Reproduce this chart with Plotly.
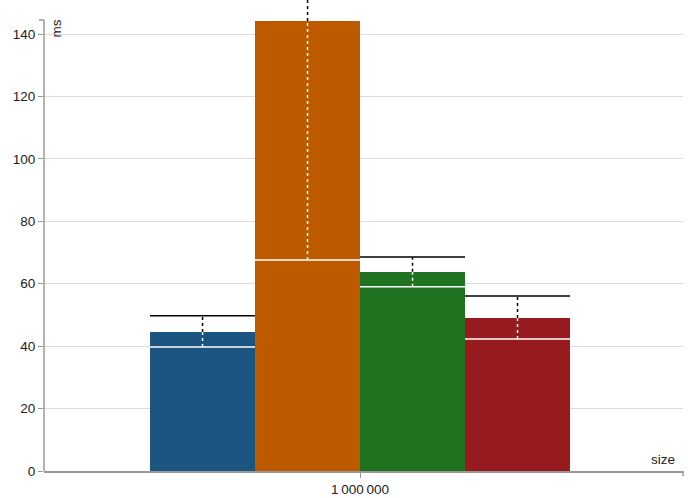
import plotly.graph_objects as go

categories = ["1\u2009000\u2009000"]
series_names = ["A", "B", "C", "D"]
colors = ["#1c5580", "#bd5a00", "#1f7220", "#961b1f"]
bar_values = [44.5, 144.2, 63.8, 49.0]
median_values = [39.7, 67.6, 59.0, 42.3]
whisker_top = [49.7, 160.0, 68.6, 56.1]

y_ticks = [0, 20, 40, 60, 80, 100, 120, 140]
y_axis_top = 144.5      # end of the drawn y axis
y_view_top = 150.9      # plot area extends to top of the page

bar_w = 1.0
n = len(series_names)
fig = go.Figure()

for i, name in enumerate(series_names):
    xc = 0 + (i - (n - 1) / 2) * bar_w
    x0, x1 = xc - bar_w / 2, xc + bar_w / 2
    fig.add_trace(go.Bar(x=[xc], y=[bar_values[i]], width=bar_w,
                         marker=dict(color=colors[i], line=dict(width=0)),
                         name=name, showlegend=False))
    fig.add_trace(go.Scatter(x=[x0, x1], y=[median_values[i]] * 2, mode="lines",
                             line=dict(color="white", width=1.5), showlegend=False, hoverinfo="skip"))
    fig.add_trace(go.Scatter(x=[xc, xc], y=[median_values[i], min(bar_values[i], whisker_top[i])], mode="lines",
                             line=dict(color="white", width=1.5, dash="3px,3px"), showlegend=False, hoverinfo="skip"))
    if whisker_top[i] > bar_values[i]:
        fig.add_trace(go.Scatter(x=[xc, xc], y=[bar_values[i], whisker_top[i]], mode="lines",
                                 line=dict(color="black", width=1.5, dash="3px,3px"), showlegend=False, hoverinfo="skip"))
    fig.add_trace(go.Scatter(x=[x0, x1], y=[whisker_top[i]] * 2, mode="lines",
                             line=dict(color="black", width=1.5), showlegend=False, hoverinfo="skip"))

font = dict(family="Liberation Sans, Arial, sans-serif", size=13.5, color="#222")
axis_col = "#999"

fig.update_layout(
    width=688, height=498,
    margin=dict(l=44, r=5, t=0, b=27, autoexpand=False),
    plot_bgcolor="white", paper_bgcolor="white",
    font=font,
    bargap=0,
    xaxis=dict(range=[-3.01, 3.076], tickvals=[0], ticktext=categories, showgrid=False,
               showline=True, linecolor=axis_col, linewidth=1.5, ticks="outside", ticklen=5, tickcolor=axis_col,
               zeroline=False, fixedrange=True, automargin=False),
    yaxis=dict(range=[0, y_view_top], tickvals=y_ticks, showgrid=True, gridcolor="#dcdcdc", gridwidth=1,
               showline=False, ticks="outside", ticklen=5, tickcolor=axis_col,
               zeroline=False, fixedrange=True, automargin=False),
    annotations=[
        dict(text="ms", xref="paper", yref="y", x=0, y=y_axis_top, xanchor="left", yanchor="top",
             xshift=3, yshift=2, textangle=-90, showarrow=False, font=font),
        dict(text="size", xref="paper", yref="paper", x=1, y=0, xanchor="right", yanchor="bottom",
             xshift=-6, yshift=2, showarrow=False, font=font),
    ],
)
fig.add_shape(type="line", xref="paper", yref="y", x0=0, x1=0, y0=0, y1=y_axis_top,
              line=dict(color=axis_col, width=1.5), layer="above")
fig.add_shape(type="line", xref="paper", yref="y", x0=-5 / 639, x1=0, y0=y_axis_top, y1=y_axis_top,
              line=dict(color=axis_col, width=1.5), layer="above")
fig.add_shape(type="line", xref="paper", yref="paper", x0=1, x1=1, y0=0, y1=-5 / 471,
              line=dict(color=axis_col, width=1.5))

fig.write_html("out.html", config={"displayModeBar": False},
               post_script="document.body.style.margin='0';document.body.style.overflow='hidden';")
